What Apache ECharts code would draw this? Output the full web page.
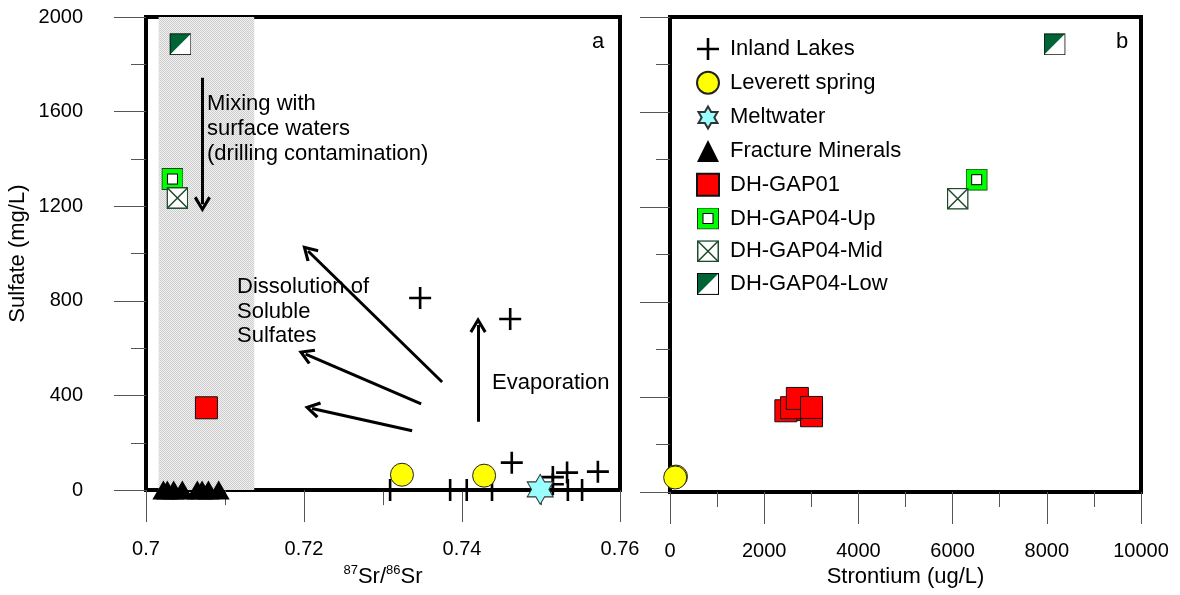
<!DOCTYPE html>
<html>
<head>
<meta charset="utf-8">
<script src="https://cdn.jsdelivr.net/npm/echarts@6/dist/echarts.min.js"></script>
<style>
  html, body { margin: 0; padding: 0; background: #ffffff; }
  #chart { width: 1180px; height: 595px; }
</style>
</head>
<body>
<div id="chart"></div>
<script>
// ---- Axis ticks ----
const ratioTicks = [0.70, 0.72, 0.74, 0.76];
const sulfateTicks = [0, 400, 800, 1200, 1600, 2000];
const strontiumTicks = [0, 2000, 4000, 6000, 8000, 10000];

// ---- Inland lakes (87Sr/86Sr vs sulfate) ----
const lakesRatio   = [0.7347, 0.7461, 0.7463, 0.7533, 0.7572, 0.7515, 0.7515, 0.7309, 0.7385, 0.7406, 0.7438, 0.7534, 0.7552];
const lakesSulfate = [812, 723, 116, 74, 78, 55, 25, 0, 0, 0, 0, 0, 0];

// ---- Leverett spring ----
const leverettRatio     = [0.7324, 0.7428];
const leverettSulfate   = [65, 61];
const leverettStrontium = [127, 110];

// ---- Meltwater ----
const meltRatio   = [0.7499];
const meltSulfate = [3];

// ---- Fracture minerals ----
const fractureRatio   = [0.7022, 0.7027, 0.7035, 0.7046, 0.7065, 0.7071, 0.7079, 0.7092];
const fractureSulfate = [0, 0, 0, 0, 0, 0, 0, 0];

// ---- DH-GAP01 ----
const gap01Ratio        = [0.70765];
const gap01RatioSulfate = [348];
const gap01Strontium    = [2704, 3005, 2460, 2581, 2704, 3005];
const gap01Sulfate      = [347, 321, 342, 355, 394, 356];

// ---- DH-GAP04 intervals ----
const gap04UpRatio = [0.70335],  gap04UpStrontium = [6511],  gap04UpSulfate = [1315];
const gap04MidRatio = [0.70398], gap04MidStrontium = [6108], gap04MidSulfate = [1235];
const gap04LowRatio = [0.70436], gap04LowStrontium = [8165], gap04LowSulfate = [1885];

// ---- Shaded band of deep groundwater ratios ----
const bandRatio = [0.7016, 0.7137];

// ---- Process arrows: [ratio0, sulfate0, ratio1, sulfate1] ----
const mixingArrow      = [0.70714, 1743, 0.70714, 1208];
const dissolutionArrows = [
  [0.73748, 457, 0.72051, 1011],
  [0.73483, 365, 0.72020, 575],
  [0.73369, 251, 0.72102, 345]
];
const evaporationArrow = [0.74203, 289, 0.74203, 698];

const FONT = 'Liberation Sans, Arial, sans-serif';
const zip = (xs, ys) => xs.map((x, i) => [x, ys[i]]);
const svgSymbol = s => 'image://data:image/svg+xml;charset=utf-8,' + encodeURIComponent(s);

const crossPath = 'path://M9.7,0 H12.3 V9.7 H22 V12.3 H12.3 V22 H9.7 V12.3 H0 V9.7 H9.7 Z';
const starPath = 'path://M50,0 L64.43,25 L93.3,25 L78.87,50 L93.3,75 L64.43,75 L50,100 L35.57,75 L6.7,75 L21.13,50 L6.7,25 L35.57,25 Z';
const chevron = 'path://M10,0 L20,15.5 L17,17.5 L10,6.5 L3,17.5 L0,15.5 Z';

const upSymbol = svgSymbol('<svg xmlns="http://www.w3.org/2000/svg" width="22" height="22" viewBox="0 0 22 22">' +
  '<rect x="0.5" y="0.5" width="21" height="21" fill="#00ff00" stroke="#1b3d1b"/>' +
  '<rect x="6" y="6" width="10" height="10" fill="#ffffff" stroke="#000000"/></svg>');
const midSymbol = svgSymbol('<svg xmlns="http://www.w3.org/2000/svg" width="22" height="22" viewBox="0 0 22 22">' +
  '<rect x="0.75" y="0.75" width="20.5" height="20.5" fill="#ffffff" stroke="#1d4a2b" stroke-width="1.5"/>' +
  '<path d="M1,1 L21,21 M21,1 L1,21" stroke="#1d4a2b" stroke-width="1.5"/></svg>');
const lowSymbol = svgSymbol('<svg xmlns="http://www.w3.org/2000/svg" width="22" height="22" viewBox="0 0 22 22">' +
  '<rect x="0.5" y="0.5" width="21" height="21" fill="#ffffff"/>' +
  '<path d="M0.5,0.5 L21.5,0.5 L0.5,21.5 Z" fill="#006436"/>' +
  '<rect x="0.5" y="0.5" width="21" height="21" fill="none" stroke="#000000"/></svg>');

// Fine grey stipple used for the shaded ratio band
function stipple() {
  const c = document.createElement('canvas');
  c.width = 2; c.height = 2;
  const g = c.getContext('2d');
  g.fillStyle = '#f0f0f0'; g.fillRect(0, 0, 2, 2);
  g.fillStyle = '#cdcdcd'; g.fillRect(0, 0, 1, 1); g.fillRect(1, 1, 1, 1);
  return c;
}

const tickStyle = { color: '#555555', width: 1 };
const axisCommon = {
  type: 'value',
  axisLine: { show: false },
  splitLine: { show: false },
  axisTick: { show: true, inside: false, length: 32, lineStyle: tickStyle },
  minorTick: { show: true, splitNumber: 2, length: 15, lineStyle: tickStyle }
};
const step = t => t[1] - t[0];
const plain = v => String(+v.toFixed(4));

const arrowLine = a => [{ coord: [a[0], a[1]] }, { coord: [a[2], a[3]] }];

const lakesStyle = { color: '#000000', opacity: 1 };
const leverettStyle = { color: '#ffff00', borderColor: '#222222', borderWidth: 1, opacity: 1 };
const gap01Style = { color: '#ff0000', borderColor: '#111111', borderWidth: 1, opacity: 1 };
const imgStyle = { opacity: 1 };

const chart = echarts.init(document.getElementById('chart'), null, { renderer: 'canvas' });

chart.setOption({
  animation: false,
  backgroundColor: '#ffffff',
  textStyle: { fontFamily: FONT, color: '#000000' },
  grid: [
    { left: 146, top: 17, width: 474, height: 475, show: true, borderColor: '#000000', borderWidth: 4, backgroundColor: 'transparent' },
    { left: 670, top: 17, width: 471, height: 475, show: true, borderColor: '#000000', borderWidth: 4, backgroundColor: 'transparent' }
  ],
  xAxis: [
    Object.assign({}, axisCommon, {
      gridIndex: 0,
      min: ratioTicks[0], max: ratioTicks[ratioTicks.length - 1], interval: step(ratioTicks),
      axisLabel: { margin: 49, fontSize: 20, color: '#000', fontFamily: FONT, formatter: plain },
      name: '{sup|87}Sr/{sup|86}Sr',
      nameLocation: 'middle', nameGap: 72,
      nameTextStyle: {
        fontSize: 22, color: '#000', fontFamily: FONT, lineHeight: 26,
        rich: { sup: { fontSize: 13, fontFamily: FONT, color: '#000', verticalAlign: 'top', lineHeight: 13 } }
      }
    }),
    Object.assign({}, axisCommon, {
      gridIndex: 1,
      min: strontiumTicks[0], max: strontiumTicks[strontiumTicks.length - 1], interval: step(strontiumTicks),
      axisLabel: { margin: 49, fontSize: 20, color: '#000', fontFamily: FONT, formatter: plain },
      name: 'Strontium (ug/L)',
      nameLocation: 'middle', nameGap: 74,
      nameTextStyle: { fontSize: 22, color: '#000', fontFamily: FONT }
    })
  ],
  yAxis: [
    Object.assign({}, axisCommon, {
      gridIndex: 0,
      min: sulfateTicks[0], max: sulfateTicks[sulfateTicks.length - 1], interval: step(sulfateTicks),
      axisLabel: { margin: 63, fontSize: 20, color: '#000', fontFamily: FONT, formatter: plain },
      name: 'Sulfate (mg/L)',
      nameLocation: 'middle', nameGap: 117,
      nameTextStyle: { fontSize: 22, color: '#000', fontFamily: FONT }
    }),
    Object.assign({}, axisCommon, {
      gridIndex: 1,
      min: sulfateTicks[0], max: sulfateTicks[sulfateTicks.length - 1], interval: step(sulfateTicks),
      axisTick: { show: true, inside: false, length: 30, lineStyle: tickStyle },
      minorTick: { show: true, splitNumber: 2, length: 14, lineStyle: tickStyle },
      axisLabel: { show: false }
    })
  ],
  legend: {
    orient: 'vertical',
    left: 691, top: 33,
    itemWidth: 22, itemHeight: 22, itemGap: 10.7,
    textStyle: { fontSize: 22, color: '#000', fontFamily: FONT, lineHeight: 22, padding: [0, 0, 0, 6] },
    selectedMode: false,
    data: [
      { name: 'Inland Lakes', icon: crossPath },
      { name: 'Leverett spring', icon: 'circle' },
      { name: 'Meltwater', icon: starPath },
      { name: 'Fracture Minerals', icon: 'triangle' },
      { name: 'DH-GAP01', icon: 'rect' },
      { name: 'DH-GAP04-Up', icon: upSymbol },
      { name: 'DH-GAP04-Mid', icon: midSymbol },
      { name: 'DH-GAP04-Low', icon: lowSymbol }
    ]
  },
  graphic: [
    { type: 'text', x: 598, y: 42, z: 10, style: { text: 'a', font: '22px ' + FONT, fill: '#000', align: 'center', verticalAlign: 'middle' } },
    { type: 'text', x: 1122, y: 42, z: 10, style: { text: 'b', font: '22px ' + FONT, fill: '#000', align: 'center', verticalAlign: 'middle' } },
    { type: 'text', x: 207, y: 91, z: 10, style: { text: 'Mixing with\nsurface waters\n(drilling contamination)', font: '22px ' + FONT, fill: '#000', lineHeight: 25, verticalAlign: 'top' } },
    { type: 'text', x: 237, y: 275, z: 10, style: { text: 'Dissolution of\nSoluble\nSulfates', font: '22px ' + FONT, fill: '#000', lineHeight: 24.5, verticalAlign: 'top' } },
    { type: 'text', x: 492, y: 370, z: 10, style: { text: 'Evaporation', font: '22px ' + FONT, fill: '#000', lineHeight: 25, verticalAlign: 'top' } }
  ],
  series: [
    {
      name: 'guides', type: 'scatter', xAxisIndex: 0, yAxisIndex: 0, data: [], z: 1, silent: true,
      markArea: {
        silent: true,
        itemStyle: { color: { image: stipple(), repeat: 'repeat' }, borderWidth: 0, opacity: 1 },
        data: [[{ coord: [bandRatio[0], sulfateTicks[0]] }, { coord: [bandRatio[1], sulfateTicks[sulfateTicks.length - 1]] }]]
      },
      markLine: {
        silent: true,
        symbol: ['none', chevron],
        symbolSize: [17, 16],
        label: { show: false },
        lineStyle: { color: '#000000', width: 3, type: 'solid', opacity: 1 },
        data: [arrowLine(mixingArrow)].concat(dissolutionArrows.map(arrowLine), [arrowLine(evaporationArrow)])
      }
    },
    { name: 'Inland Lakes', type: 'scatter', xAxisIndex: 0, yAxisIndex: 0, clip: false, z: 3,
      symbol: crossPath, symbolSize: 22, itemStyle: lakesStyle, data: zip(lakesRatio, lakesSulfate) },
    { name: 'Fracture Minerals', type: 'scatter', xAxisIndex: 0, yAxisIndex: 0, clip: false, z: 3,
      symbol: 'triangle', symbolSize: [22, 19], itemStyle: { color: '#000000', opacity: 1 }, data: zip(fractureRatio, fractureSulfate) },
    { name: 'Leverett spring', type: 'scatter', xAxisIndex: 0, yAxisIndex: 0, clip: false, z: 3,
      symbol: 'circle', symbolSize: 23, itemStyle: leverettStyle, data: zip(leverettRatio, leverettSulfate) },
    { name: 'Meltwater', type: 'scatter', xAxisIndex: 0, yAxisIndex: 0, clip: false, z: 3,
      symbol: starPath, symbolSize: [26, 30], symbolKeepAspect: false,
      itemStyle: { color: '#99ffff', borderColor: '#333333', borderWidth: 1, opacity: 1 }, data: zip(meltRatio, meltSulfate) },
    { name: 'DH-GAP01', type: 'scatter', xAxisIndex: 0, yAxisIndex: 0, clip: false, z: 3,
      symbol: 'rect', symbolSize: 22, itemStyle: gap01Style, data: zip(gap01Ratio, gap01RatioSulfate) },
    { name: 'DH-GAP04-Up', type: 'scatter', xAxisIndex: 0, yAxisIndex: 0, clip: false, z: 3,
      symbol: upSymbol, symbolSize: 22, itemStyle: imgStyle, data: zip(gap04UpRatio, gap04UpSulfate) },
    { name: 'DH-GAP04-Mid', type: 'scatter', xAxisIndex: 0, yAxisIndex: 0, clip: false, z: 3,
      symbol: midSymbol, symbolSize: 22, itemStyle: imgStyle, data: zip(gap04MidRatio, gap04MidSulfate) },
    { name: 'DH-GAP04-Low', type: 'scatter', xAxisIndex: 0, yAxisIndex: 0, clip: false, z: 3,
      symbol: lowSymbol, symbolSize: 22, itemStyle: imgStyle, data: zip(gap04LowRatio, gap04LowSulfate) },

    { name: 'Leverett spring', type: 'scatter', xAxisIndex: 1, yAxisIndex: 1, clip: false, z: 3,
      symbol: 'circle', symbolSize: 23, itemStyle: leverettStyle, data: zip(leverettStrontium, leverettSulfate) },
    { name: 'DH-GAP01', type: 'scatter', xAxisIndex: 1, yAxisIndex: 1, clip: false, z: 3,
      symbol: 'rect', symbolSize: 22, itemStyle: gap01Style, data: zip(gap01Strontium, gap01Sulfate) },
    { name: 'DH-GAP04-Up', type: 'scatter', xAxisIndex: 1, yAxisIndex: 1, clip: false, z: 3,
      symbol: upSymbol, symbolSize: 22, itemStyle: imgStyle, data: zip(gap04UpStrontium, gap04UpSulfate) },
    { name: 'DH-GAP04-Mid', type: 'scatter', xAxisIndex: 1, yAxisIndex: 1, clip: false, z: 3,
      symbol: midSymbol, symbolSize: 22, itemStyle: imgStyle, data: zip(gap04MidStrontium, gap04MidSulfate) },
    { name: 'DH-GAP04-Low', type: 'scatter', xAxisIndex: 1, yAxisIndex: 1, clip: false, z: 3,
      symbol: lowSymbol, symbolSize: 22, itemStyle: imgStyle, data: zip(gap04LowStrontium, gap04LowSulfate) }
  ]
});
</script>
</body>
</html>
